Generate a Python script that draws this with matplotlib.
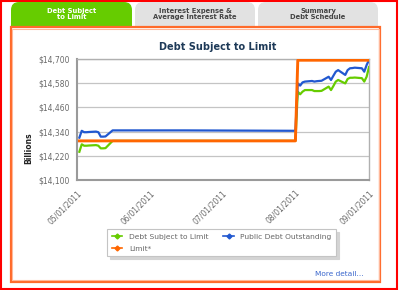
import matplotlib
matplotlib.use("Agg")
import matplotlib.pyplot as plt
from matplotlib.patches import Rectangle, FancyBboxPatch
from matplotlib.lines import Line2D
from matplotlib.ticker import FuncFormatter
from matplotlib.transforms import IdentityTransform
import pandas as pd

# ---------------- data ----------------
dates = ["2011-05-02", "2011-05-03", "2011-05-04", "2011-05-05", "2011-05-06",
         "2011-05-09", "2011-05-10", "2011-05-11", "2011-05-12", "2011-05-13",
         "2011-05-16", "2011-06-15", "2011-08-01",
         "2011-08-02", "2011-08-03", "2011-08-04", "2011-08-05",
         "2011-08-08", "2011-08-09", "2011-08-10", "2011-08-11", "2011-08-12",
         "2011-08-15", "2011-08-16", "2011-08-17", "2011-08-18", "2011-08-19",
         "2011-08-22", "2011-08-23", "2011-08-24", "2011-08-25", "2011-08-26",
         "2011-08-29", "2011-08-30", "2011-08-31", "2011-09-01"]

public_debt = [14310, 14344, 14337, 14337, 14338, 14340, 14337, 14315, 14315, 14316,
               14346, 14346, 14344,
               14579, 14568, 14584, 14588,
               14591, 14588, 14590, 14591, 14592,
               14612, 14596, 14617, 14637, 14645,
               14621, 14645, 14654, 14655, 14657,
               14654, 14637, 14670, 14695]

debt_subject = [14240, 14277, 14270, 14270, 14271, 14273, 14270, 14257, 14257, 14258,
                14294, 14294, 14294,
                14538, 14525, 14538, 14546,
                14546, 14541, 14541, 14541, 14542,
                14563, 14546, 14566, 14588, 14596,
                14579, 14601, 14607, 14607, 14608,
                14605, 14588, 14612, 14660]

limit = [14294] * 13 + [14694] * 23

y_ticks = [14100, 14220, 14340, 14460, 14580, 14700]
x_ticks = ["2011-05-01", "2011-06-01", "2011-07-01", "2011-08-01", "2011-09-01"]

title = "Debt Subject to Limit"
tabs = ["Debt Subject\nto Limit", "Interest Expense &\nAverage Interest Rate", "Summary\nDebt Schedule"]
series_names = ["Debt Subject to Limit", "Limit*", "Public Debt Outstanding"]

# ---------------- figure ----------------
W, H = 400, 290
fig = plt.figure(figsize=(W / 100, H / 100), dpi=100)
fig.patch.set_facecolor("white")

def fx(x):
    return x / W

def fy(y):
    return 1 - y / H

def rect_px(x0, y0, x1, y1, z=0, **kw):
    r = Rectangle((fx(x0), fy(y1)), fx(x1) - fx(x0), fy(y0) - fy(y1),
                  transform=fig.transFigure, zorder=z, **kw)
    fig.add_artist(r)
    return r

# outer red border
rect_px(1, 0.5, 397, 288.5, z=-5, facecolor="none", edgecolor="#ff0000", lw=1.5)

# tabs (rounded top corners; lower part hidden behind frame)
tab_specs = [(11, 132, "#66cc00", "white"),
             (135, 255, "#e2e2e2", "#444444"),
             (258, 378, "#e2e2e2", "#444444")]
for (x0, x1, fc, tc), label in zip(tab_specs, tabs):
    p = FancyBboxPatch((x0, H - 40), x1 - x0, 38,
                       boxstyle="round,pad=0,rounding_size=8",
                       transform=IdentityTransform(), facecolor=fc,
                       edgecolor="none", zorder=-4)
    fig.add_artist(p)
    fig.text(fx((x0 + x1) / 2), fy(14), label, ha="center", va="center",
             fontsize=4.9, fontweight="bold", color=tc, linespacing=1.05,
             zorder=-3)

# inner frame
rect_px(10.5, 27, 380, 281.5, z=-2, facecolor="white", edgecolor="#ff6a2a", lw=1.6)
rect_px(12, 28.5, 378.5, 280, z=-1, facecolor="none", edgecolor="#ffb89a", lw=0.8)

# ---------------- axes ----------------
ax = fig.add_axes([fx(77), fy(180), fx(369) - fx(77), fy(59) - fy(180)])
ax.set_zorder(2)
d = pd.to_datetime(dates)

ax.plot(d, debt_subject, color="#66cc00", lw=1.6, zorder=3)
ax.plot(d, public_debt, color="#2158d0", lw=1.6, zorder=4)
ax.plot(d, limit, color="#ff6600", lw=2.1, zorder=5)

ax.set_xlim(pd.Timestamp("2011-05-01"), pd.Timestamp("2011-09-01"))
ax.set_ylim(14100, 14700)
ax.set_yticks(y_ticks)
ax.yaxis.set_major_formatter(FuncFormatter(lambda v, p: "${:,.0f}".format(v)))
xt = pd.to_datetime(x_ticks)
ax.set_xticks(xt)
ax.set_xticklabels([t.strftime("%m/%d/%Y") for t in xt], rotation=45,
                   ha="right", rotation_mode="anchor")
ax.tick_params(axis="both", length=0, labelsize=5.5, labelcolor="#6a6a6a")
ax.tick_params(axis="y", pad=5)
ax.tick_params(axis="x", pad=6)
ax.grid(axis="y", color="#c4c4c4", lw=0.9)
ax.set_axisbelow(True)
for s in ["left", "bottom"]:
    ax.spines[s].set_color("#9a9a9a")
    ax.spines[s].set_linewidth(1.5)
for s in ["top", "right"]:
    ax.spines[s].set_color("#b0b0b0")
    ax.spines[s].set_linewidth(1.0)

fig.text(fx(218), fy(47), title, ha="center", va="center", fontsize=7,
         fontweight="bold", color="#1e3a58")
fig.text(fx(29), fy(148), "Billions", ha="center", va="center", rotation=90,
         fontsize=5.5, fontweight="bold", color="#222222")

# ---------------- legend ----------------
handles = [Line2D([], [], color="#66cc00", lw=1.2, marker="D", markersize=2.5),
           Line2D([], [], color="#ff6600", lw=1.2, marker="D", markersize=2.5),
           Line2D([], [], color="#2158d0", lw=1.2, marker="D", markersize=2.5)]
leg = fig.legend(handles, series_names, loc="upper left",
                 bbox_to_anchor=(fx(107), fy(229)), ncol=2, fontsize=5.4,
                 frameon=True, fancybox=False,
                 shadow={"color": "#d4d4d4", "alpha": 1.0, "ox": 2, "oy": -2},
                 edgecolor="#c4c4c4",
                 handlelength=1.4, handletextpad=0.9, columnspacing=2.0,
                 borderpad=0.6, labelspacing=0.75, borderaxespad=0)
leg.set_zorder(10)
for t in leg.get_texts():
    t.set_color("#666666")
leg.get_frame().set_linewidth(0.8)

fig.text(fx(364), fy(274), "More detail...", ha="right", va="center",
         fontsize=5.3, color="#3a66cc")
rect_px(313, 277.5, 364, 277.9, z=1, facecolor="#3a66cc", edgecolor="none")

fig.savefig("out.png", dpi=100)
